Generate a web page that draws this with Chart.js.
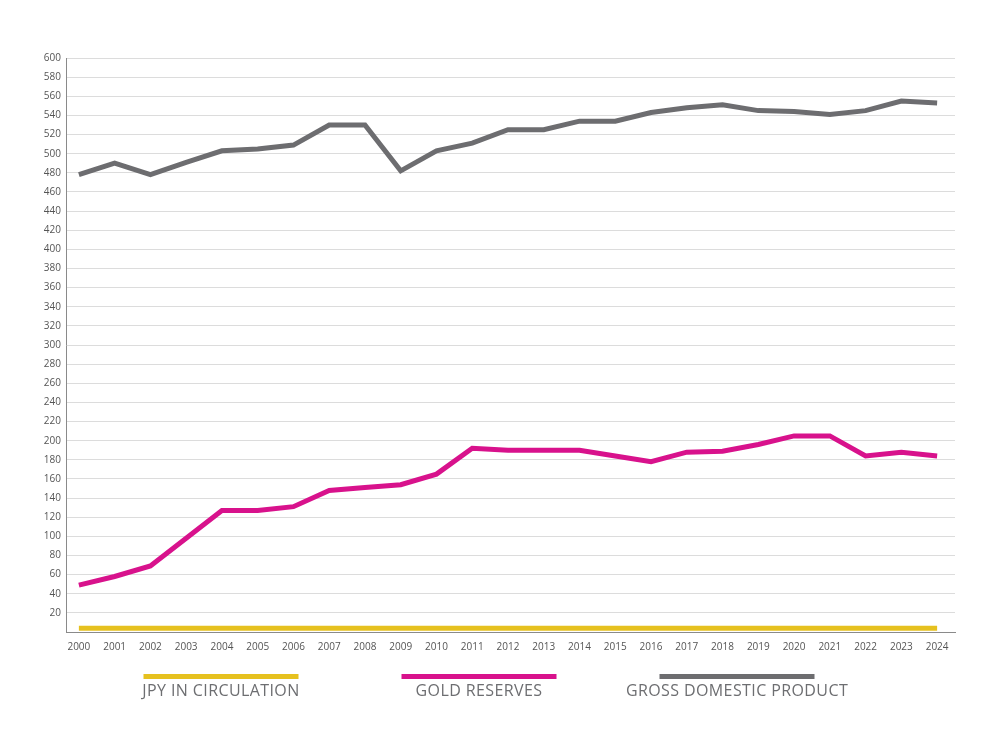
<!DOCTYPE html>
<html>
<head>
<meta charset="utf-8">
<script src="https://cdn.jsdelivr.net/npm/chart.js@4.4.1/dist/chart.umd.min.js"></script>
<style>
  html, body { margin: 0; padding: 0; background: #fff; }
  #wrap { width: 1000px; height: 750px; position: relative; }
</style>
</head>
<body>
<div id="wrap"><canvas id="myChart"></canvas></div>
<script>
// data
var years = ["2000","2001","2002","2003","2004","2005","2006","2007","2008","2009","2010","2011",
             "2012","2013","2014","2015","2016","2017","2018","2019","2020","2021","2022","2023","2024"];
var jpyInCirculation = [4,4,4,4,4,4,4,4,4,4,4,4,4,4,4,4,4,4,4,4,4,4,4,4,4];
var goldReserves = [49,58,69,98,127,127,131,148,151,154,165,192,190,190,190,184,178,188,189,196,205,205,184,188,184];
var grossDomesticProduct = [478,490,478,491,503,505,509,530,530,482,503,511,525,525,534,534,543,548,551,545,544,541,545,555,553];
var seriesNames = ["JPY IN CIRCULATION", "GOLD RESERVES", "GROSS DOMESTIC PRODUCT"];
var seriesColors = ["#E6C11F", "#D8128C", "#6D6D70"];

var textColor = "#6D6E71";
var fontFamily = "'Open Sans', 'Lato', sans-serif";

// year index -> {x, y} so the x scale can have uneven end margins
function toPoints(values) {
    return values.map(function (v, i) { return { x: i, y: v }; });
}

// legend: coloured bar above an uppercase label
var barLegend = {
    id: "barLegend",
    afterDraw: function (chart) {
        var ctx = chart.ctx;
        var mid = 479, gap = 258, barW = 155;
        ctx.save();
        chart.data.datasets.forEach(function (ds, i) {
            var cx = mid + (i - 1) * gap;
            ctx.fillStyle = ds.borderColor;
            ctx.fillRect(cx - barW / 2, 674, barW, 5);
            ctx.fillStyle = textColor;
            ctx.font = "16px " + fontFamily;
            if ("letterSpacing" in ctx) ctx.letterSpacing = "0.4px";
            ctx.textAlign = "center";
            ctx.textBaseline = "middle";
            ctx.fillText(ds.label, cx, 691);
        });
        ctx.restore();
    }
};

var ctx = document.getElementById("myChart");
var myChart = new Chart(ctx, {
    type: "line",
    data: {
        datasets: [
            { label: seriesNames[0], data: toPoints(jpyInCirculation), borderColor: seriesColors[0], backgroundColor: seriesColors[0] },
            { label: seriesNames[1], data: toPoints(goldReserves), borderColor: seriesColors[1], backgroundColor: seriesColors[1] },
            { label: seriesNames[2], data: toPoints(grossDomesticProduct), borderColor: seriesColors[2], backgroundColor: seriesColors[2] }
        ]
    },
    options: {
        responsive: true,
        maintainAspectRatio: false,
        animation: false,
        elements: {
            line: { borderWidth: 5, tension: 0, borderCapStyle: "butt" },
            point: { radius: 0, hoverRadius: 0 }
        },
        layout: { padding: { left: 0, right: 45, top: 58, bottom: 0 } },
        plugins: {
            legend: { display: false },
            tooltip: { enabled: false }
        },
        scales: {
            x: {
                type: "linear",
                min: -0.36,
                max: 24.5,
                grid: { display: false, drawTicks: false },
                border: { display: true, color: "#8A8A8A", width: 1 },
                ticks: {
                    color: "#555",
                    font: { family: fontFamily, size: 10 },
                    padding: 9,
                    maxRotation: 0,
                    autoSkip: false,
                    stepSize: 1,
                    includeBounds: false,
                    callback: function (v) { return Number.isInteger(v) ? years[v] : ""; }
                },
                afterBuildTicks: function (scale) {
                    scale.ticks = years.map(function (y, i) { return { value: i }; });
                },
                afterFit: function (scale) { scale.height = 118; }
            },
            y: {
                min: 0,
                max: 600,
                grid: { color: "#DCDCDC", lineWidth: 1, drawTicks: false },
                border: { display: true, color: "#8A8A8A", width: 1 },
                ticks: {
                    stepSize: 20,
                    color: "#555",
                    font: { family: fontFamily, size: 10 },
                    padding: 5,
                    callback: function (v) { return v === 0 ? "" : v; }
                },
                afterFit: function (scale) { scale.width = 66; }
            }
        }
    },
    plugins: [barLegend]
});
</script>
</body>
</html>
